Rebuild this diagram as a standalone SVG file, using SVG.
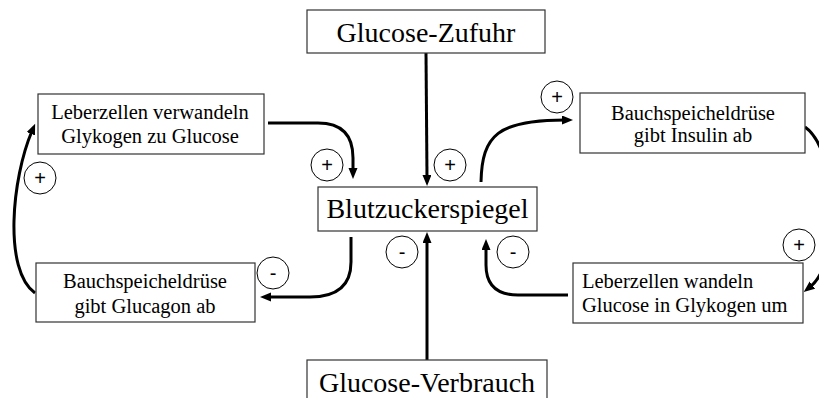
<svg xmlns="http://www.w3.org/2000/svg" width="819" height="398" viewBox="0 0 819 398">
<style>
.box{fill:#fff;stroke:#333;stroke-width:1.2}
.big{font-family:"Liberation Serif","Times New Roman",serif;font-size:28px;fill:#000}
.txt{font-family:"Liberation Serif","Times New Roman",serif;font-size:20.5px;fill:#000}
.c{text-anchor:middle}
.arr{fill:none;stroke:#000;stroke-width:3;marker-end:url(#ah)}
.sig circle{fill:#fff;stroke:#000;stroke-width:1}
.sig text{font-family:"Liberation Sans",Arial,sans-serif;font-size:20px;text-anchor:middle;fill:#000}
</style>
<defs>
<marker id="ah" markerUnits="userSpaceOnUse" markerWidth="12" markerHeight="10" refX="3" refY="4.5" orient="auto">
<path d="M0,0 L11,4.5 L0,9 z" fill="#000"/>
</marker>
</defs>
<rect width="819" height="398" fill="#fff"/>
<g id="connectors">
<path class="arr" d="M268,123 L318,123 Q353,123 353,158 L353,171"/>
<path class="arr" d="M426,53 L427,178"/>
<path class="arr" d="M481,182 C482,135 498,120 565,120"/>
<path class="arr" d="M805,127 C838,150 842,262 810,287"/>
<path class="arr" d="M568,295 L518,295 Q486,295 486,265 L486,247"/>
<path class="arr" d="M427,360 L427,240"/>
<path class="arr" d="M351,237 L351,262 Q351,297 310,297 L268,297"/>
<path class="arr" d="M35,293 C3,270 12,178 32,131"/>
</g>
<g id="zufuhr">
<rect class="box" x="307" y="10" width="238" height="43"/>
<text class="big c" x="426" y="42">Glucose-Zufuhr</text>
</g>
<g id="blutzucker">
<rect class="box" x="318" y="187" width="219" height="44"/>
<text class="big c" x="427.5" y="218">Blutzuckerspiegel</text>
</g>
<g id="verbrauch">
<rect class="box" x="307" y="360" width="240" height="50"/>
<text class="big c" x="427" y="392">Glucose-Verbrauch</text>
</g>
<g id="leber-glykogen">
<rect class="box" x="38" y="94" width="226" height="60"/>
<text class="txt c" x="150" y="119">Leberzellen verwandeln</text>
<text class="txt c" x="150" y="143">Glykogen zu Glucose</text>
</g>
<g id="glucagon">
<rect class="box" x="36" y="263" width="219" height="59"/>
<text class="txt c" x="145" y="288">Bauchspeicheldrüse</text>
<text class="txt c" x="145" y="313">gibt Glucagon ab</text>
</g>
<g id="insulin">
<rect class="box" x="580" y="93" width="225" height="60"/>
<text class="txt c" x="693" y="120">Bauchspeicheldrüse</text>
<text class="txt c" x="693" y="142">gibt Insulin ab</text>
</g>
<g id="leber-glucose">
<rect class="box" x="573" y="263" width="230" height="60"/>
<text class="txt" x="582" y="288">Leberzellen wandeln</text>
<text class="txt" x="582" y="312">Glucose in Glykogen um</text>
</g>
<g id="signs" class="sig">
<g><circle cx="327" cy="165" r="16"/><text x="327" y="172">+</text></g>
<g><circle cx="450" cy="165" r="16"/><text x="450" y="172">+</text></g>
<g><circle cx="557" cy="97" r="16"/><text x="557" y="104">+</text></g>
<g><circle cx="799" cy="245" r="16"/><text x="799" y="252">+</text></g>
<g><circle cx="40" cy="178" r="16"/><text x="40" y="185">+</text></g>
<g><circle cx="273" cy="273" r="16"/><text x="273" y="280">-</text></g>
<g><circle cx="402" cy="252" r="16"/><text x="402" y="259">-</text></g>
<g><circle cx="513" cy="252" r="16"/><text x="513" y="259">-</text></g>
</g>
</svg>
